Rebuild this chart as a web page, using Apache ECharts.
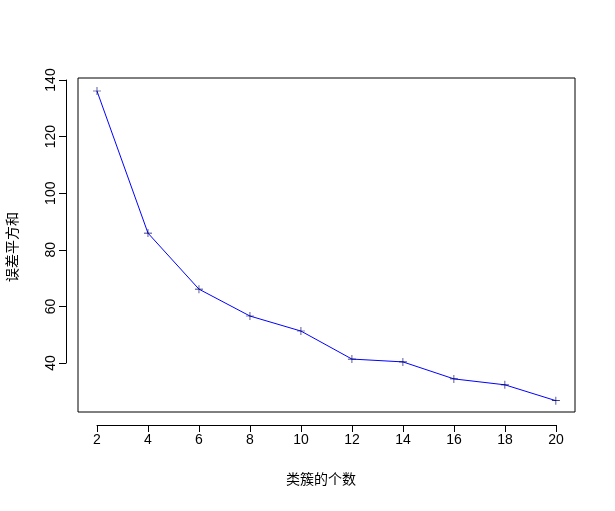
<!DOCTYPE html>
<html>
<head>
<meta charset="UTF-8">
<script src="https://cdn.jsdelivr.net/npm/echarts@6/dist/echarts.min.js"></script>
</head>
<body style="margin:0;background:#fff">
<div id="main" style="width:615px;height:511px"></div>
<script>
  // 聚类个数 vs 误差平方和
  let clusters = [2, 4, 6, 8, 10, 12, 14, 16, 18, 20]
  let sse = [136.1, 85.9, 66.1, 56.6, 51.3, 41.4, 40.4, 34.4, 32.3, 26.7]
  let xTitle = '类簇的个数'
  let yTitle = '误差平方和'

  let font = 'Liberation Sans, Arial, Noto Sans CJK SC, sans-serif'
  let plus = 'path://M4.6,0H5.4V4.6H10V5.4H5.4V10H4.6V5.4H0V4.6H4.6Z'

  let chart = echarts.init(document.getElementById('main'))
  chart.setOption({
    animation: false,
    grid: [
      // plot box (data grid)
      { left: 78, right: 40, top: 78, bottom: 99, show: true, borderColor: '#000', borderWidth: 1 },
      // grid for R-style detached axes, spans 2..20 and 40..140
      { left: 97, right: 59, top: 80, bottom: 148 }
    ],
    xAxis: [
      { gridIndex: 0, type: 'value', min: 1.255, max: 20.75, show: false },
      {
        gridIndex: 1, type: 'value', min: 2, max: 20, interval: 2, offset: 62,
        splitLine: { show: false },
        axisLine: { lineStyle: { color: '#000' } },
        axisTick: { length: 7, lineStyle: { color: '#000' } },
        axisLabel: { color: '#000', fontSize: 14, fontFamily: font, margin: 8 }
      }
    ],
    yAxis: [
      { gridIndex: 0, type: 'value', min: 22.7, max: 140.7, show: false },
      {
        gridIndex: 1, type: 'value', min: 40, max: 140, interval: 20, offset: 31,
        splitLine: { show: false },
        axisLine: { lineStyle: { color: '#000' } },
        axisTick: { length: 7, lineStyle: { color: '#000' } },
        axisLabel: { color: '#000', fontSize: 14, fontFamily: font, rotate: 90, margin: 8 }
      }
    ],
    graphic: [
      { type: 'text', left: 286, top: 473, style: { text: xTitle, fontSize: 14, fontFamily: font, fill: '#000' } },
      { type: 'text', x: 6, y: 282, rotation: Math.PI / 2, style: { text: yTitle, fontSize: 14, fontFamily: font, fill: '#000' } }
    ],
    series: [{
      type: 'line',
      xAxisIndex: 0,
      yAxisIndex: 0,
      data: clusters.map((c, i) => [c, sse[i]]),
      lineStyle: { color: '#0000ff', width: 1 },
      symbol: plus,
      symbolSize: 8,
      itemStyle: { color: '#000066' }
    }]
  })
</script>
</body>
</html>
